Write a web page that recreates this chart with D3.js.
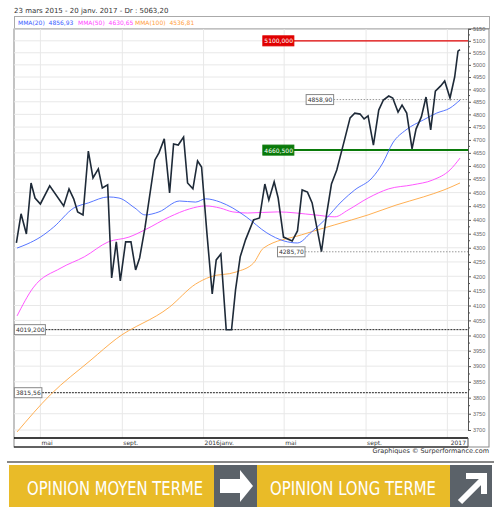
<!DOCTYPE html>
<html><head><meta charset="utf-8">
<script src="https://cdn.jsdelivr.net/npm/d3@7"></script>
<style>body{margin:0;background:#fff;font-family:Verdana,"DejaVu Sans",sans-serif}</style>
</head><body>
<svg id="c" width="500" height="520"></svg>
<script>
// price, weekly closes
const priceDates = ["2015-03-26","2015-04-02","2015-04-10","2015-04-17","2015-04-23","2015-05-01","2015-05-15","2015-06-05","2015-06-13","2015-06-20","2015-06-26","2015-07-04","2015-07-12","2015-07-19","2015-07-27","2015-08-02","2015-08-10","2015-08-16","2015-08-23","2015-08-29","2015-09-06","2015-09-14","2015-09-21","2015-09-27","2015-10-05","2015-10-20","2015-10-26","2015-11-03","2015-11-11","2015-11-17","2015-11-24","2015-12-02","2015-12-08","2015-12-16","2015-12-23","2015-12-29","2016-01-06","2016-01-14","2016-01-20","2016-01-27","2016-02-04","2016-02-12","2016-02-18","2016-02-25","2016-03-04","2016-03-16","2016-03-25","2016-04-02","2016-04-08","2016-04-16","2016-04-22","2016-04-30","2016-05-13","2016-05-21","2016-05-28","2016-06-05","2016-06-12","2016-06-26","2016-07-04","2016-07-11","2016-07-19","2016-07-31","2016-08-08","2016-08-15","2016-08-23","2016-08-29","2016-09-04","2016-09-12","2016-09-20","2016-09-27","2016-10-05","2016-10-11","2016-10-19","2016-10-25","2016-11-01","2016-11-09","2016-11-15","2016-11-23","2016-11-30","2016-12-07","2016-12-14","2016-12-22","2016-12-28","2017-01-05","2017-01-12","2017-01-17","2017-01-20"];
const priceValues = [4317,4422,4349,4536,4480,4458,4525,4451,4514,4477,4429,4418,4657,4555,4589,4517,4529,4194,4321,4184,4321,4321,4222,4264,4371,4623,4650,4704,4499,4684,4680,4711,4536,4514,4619,4596,4353,4139,4257,4278,4019,4019,4153,4268,4328,4400,4407,4532,4473,4540,4480,4338,4324,4360,4510,4502,4462,4286,4425,4532,4585,4704,4786,4805,4801,4782,4794,4680,4817,4857,4873,4865,4809,4837,4805,4665,4742,4790,4869,4739,4893,4914,4934,4865,4950,5057,5063];

const mma20Dates = ["2015-03-27","2015-04-11","2015-05-01","2015-05-21","2015-06-20","2015-07-12","2015-08-11","2015-08-27","2015-09-20","2015-10-05","2015-10-26","2015-11-26","2015-12-20","2016-01-04","2016-01-26","2016-02-14","2016-03-05","2016-04-05","2016-05-01","2016-05-21","2016-06-11","2016-07-01","2016-07-27","2016-08-15","2016-09-10","2016-09-26","2016-10-11","2016-10-31","2016-11-26","2016-12-16","2017-01-05","2017-01-20"];
const mma20Values = [4299,4313,4338,4374,4443,4462,4484,4480,4443,4418,4429,4469,4465,4477,4465,4443,4411,4353,4324,4317,4356,4400,4469,4510,4555,4611,4688,4739,4778,4805,4825,4857];

const mma50Dates = ["2015-03-27","2015-04-20","2015-06-01","2015-07-06","2015-08-11","2015-09-11","2015-10-05","2015-11-11","2015-12-11","2016-01-04","2016-01-26","2016-02-14","2016-03-07","2016-04-21","2016-06-16","2016-07-16","2016-08-05","2016-09-04","2016-10-05","2016-11-10","2016-12-10","2017-01-05","2017-01-20"];
const mma50Values = [4065,4160,4229,4268,4321,4338,4364,4411,4440,4451,4443,4429,4425,4429,4418,4411,4436,4480,4514,4529,4547,4585,4630];

const mma100Dates = ["2015-03-27","2015-05-16","2015-07-16","2015-08-23","2015-11-11","2015-12-20","2016-01-11","2016-02-19","2016-03-16","2016-03-31","2016-05-27","2016-07-16","2016-09-04","2016-10-16","2016-11-26","2016-12-27","2017-01-20"];
const mma100Values = [3694,3809,3920,3989,4095,4173,4198,4215,4246,4299,4346,4382,4418,4454,4484,4510,4536];

const levels = [
  {v:5100, label:"5100,000", kind:"red", x0:"2016-03-30"},
  {v:4858.9, label:"4858,90", kind:"dot", x0:"2016-06-03"},
  {v:4660.5, label:"4660,500", kind:"green", x0:"2016-03-30"},
  {v:4285.7, label:"4285,70", kind:"dot", x0:"2016-04-21"},
  {v:4019.2, label:"4019,200", kind:"black", x0:"2015-03-23"},
  {v:3815.56, label:"3815,56", kind:"black", x0:"2015-03-23"}
];
const xTicks = [["2015-05-01","mai"],["2015-09-01","sept."],["2016-01-01","2016janv."],["2016-05-01","mai"],["2016-09-01","sept."],["2017-01-01","2017"]];
const yTicks = d3.range(3700, 5151, 50);

const parse = d3.timeParse("%Y-%m-%d");
const svg = d3.select("#c");
const L = 14, R = 468, T = 29, B = 438;
const x = d3.scaleTime().domain([parse("2015-03-23"), parse("2017-01-20")]).range([14.4, 460]);
const y = d3.scaleLog().domain([3700, 5150]).range([430, 29]);

// header
svg.append("text").attr("x", 14).attr("y", 13).attr("font-size", 7).attr("fill", "#333")
  .text("23 mars 2015 - 20 janv. 2017 - Dr : 5063,20");
svg.append("rect").attr("x", 14.5).attr("y", 16.5).attr("width", 475).attr("height", 12)
  .attr("fill", "#fff").attr("stroke", "#aaa");
const leg = [["MMA(20)  4856,93", "#3a5cff", 18], ["MMA(50)  4630,65", "#ff44ff", 78], ["MMA(100)  4536,81", "#ffa040", 135]];
leg.forEach(d => svg.append("text").attr("x", d[2]).attr("y", 25).attr("font-size", 6).attr("fill", d[1])
  .attr("xml:space", "preserve").text(d[0]));

// outer frame
svg.append("rect").attr("x", L).attr("y", T).attr("width", 475).attr("height", B + 9 - T)
  .attr("fill", "none").attr("stroke", "#888");

// grid
svg.append("g").selectAll("line").data(yTicks).join("line")
  .attr("x1", L).attr("x2", R).attr("y1", d => y(d)).attr("y2", d => y(d)).attr("stroke", "#e8e8e8");
svg.append("g").selectAll("line").data(xTicks).join("line")
  .attr("x1", d => x(parse(d[0]))).attr("x2", d => x(parse(d[0]))).attr("y1", T).attr("y2", B).attr("stroke", "#e8e8e8");

// right axis
const ax = svg.append("g").attr("transform", `translate(${R},0)`)
  .call(d3.axisRight(y).tickValues(yTicks).tickSize(3).tickFormat(d3.format("d")));
ax.select(".domain").attr("stroke", "#555");
ax.selectAll("text").attr("font-size", 5.5).attr("fill", "#666").attr("x", 5);
ax.selectAll("line").attr("stroke", "#555");
svg.append("g").selectAll("line").data(yTicks.slice(0, -1)).join("line")
  .attr("x1", R).attr("x2", R + 2).attr("stroke", "#555")
  .attr("y1", d => y(Math.sqrt(d * (d + 50)))).attr("y2", d => y(Math.sqrt(d * (d + 50))));

// x axis strip
svg.append("line").attr("x1", L).attr("x2", R).attr("y1", B).attr("y2", B).attr("stroke", "#000").attr("stroke-width", 1.5);
svg.append("line").attr("x1", L).attr("x2", R).attr("y1", B + 9).attr("y2", B + 9).attr("stroke", "#000");
svg.append("line").attr("x1", R).attr("x2", R).attr("y1", B).attr("y2", B + 9).attr("stroke", "#555");
svg.append("g").selectAll("text").data(xTicks).join("text")
  .attr("x", (d, i) => i === 5 ? R - 2 : x(parse(d[0])) + 1).attr("y", B + 7)
  .attr("text-anchor", (d, i) => i === 5 ? "end" : "start")
  .attr("font-size", 6).attr("fill", "#333").text(d => d[1]);

// levels
levels.forEach(l => {
  const yy = y(l.v), x0 = x(parse(l.x0));
  const col = l.kind === "red" ? "#e00000" : l.kind === "green" ? "#0a7a0a" : l.kind === "dot" ? "#999" : "#222";
  const w = l.label.length * 3.5 + 3;
  svg.append("line").attr("x1", x0 + w).attr("x2", R).attr("y1", yy).attr("y2", yy).attr("stroke", col)
    .attr("stroke-width", l.kind === "green" ? 2 : l.kind === "red" ? 1.2 : 1)
    .attr("stroke-dasharray", l.kind === "dot" ? "1.5,1.5" : l.kind === "black" ? "2,1" : null);
  const filled = l.kind === "red" || l.kind === "green";
  svg.append("rect").attr("x", x0).attr("y", yy - 5).attr("width", w).attr("height", 10)
    .attr("fill", filled ? col : "#fff").attr("stroke", filled ? col : "#888");
  svg.append("text").attr("x", x0 + 1.5).attr("y", yy + 2.5).attr("font-size", 6)
    .attr("fill", filled ? "#fff" : "#333").text(l.label);
});

// series
const line = d3.line().x(d => x(d[0])).y(d => y(d[1]));
const ser = (dates, vals) => dates.map((d, i) => [parse(d), vals[i]]);
svg.append("path").datum(ser(mma100Dates, mma100Values)).attr("d", line.curve(d3.curveMonotoneX)).attr("fill", "none").attr("stroke", "#ffa640").attr("stroke-width", 0.9);
svg.append("path").datum(ser(mma50Dates, mma50Values)).attr("d", line.curve(d3.curveMonotoneX)).attr("fill", "none").attr("stroke", "#ff44ff").attr("stroke-width", 0.9);
svg.append("path").datum(ser(mma20Dates, mma20Values)).attr("d", line.curve(d3.curveMonotoneX)).attr("fill", "none").attr("stroke", "#4466ff").attr("stroke-width", 0.9);
svg.append("path").datum(ser(priceDates, priceValues)).attr("d", line.curve(d3.curveLinear)).attr("fill", "none").attr("stroke", "#1e2a38").attr("stroke-width", 1.6);

// footer
svg.append("text").attr("x", 489).attr("y", 453).attr("text-anchor", "end").attr("font-size", 6.5).attr("fill", "#333")
  .text("Graphiques © Surperformance.com");
svg.append("line").attr("x1", 7).attr("x2", 494).attr("y1", 462).attr("y2", 462).attr("stroke", "#111").attr("stroke-width", 1.2);

// banner
const yel = "#e9bb28", gry = "#5b6269";
svg.append("rect").attr("x", 9).attr("y", 465).attr("width", 441).attr("height", 42).attr("fill", yel);
svg.append("rect").attr("x", 214).attr("y", 465).attr("width", 43).attr("height", 42).attr("fill", gry);
svg.append("rect").attr("x", 450).attr("y", 465).attr("width", 42).attr("height", 42).attr("fill", gry);
[["OPINION MOYEN TERME", 27, 176], ["OPINION LONG TERME", 270, 166]].forEach(t =>
  svg.append("text").attr("x", t[1]).attr("y", 495).attr("font-family", "'DejaVu Sans Condensed','Roboto',sans-serif")
    .attr("font-size", 20).attr("fill", "#fff").attr("textLength", t[2]).attr("lengthAdjust", "spacingAndGlyphs").text(t[0]));
svg.append("path").attr("d", "M220,479h20v-9l13,16l-13,16v-9h-20z").attr("fill", "#fff");
svg.append("path").attr("d", "M460,502l22,-22M466,476h18v18").attr("stroke", "#fff").attr("stroke-width", 6).attr("fill", "none");
</script>
</body></html>
